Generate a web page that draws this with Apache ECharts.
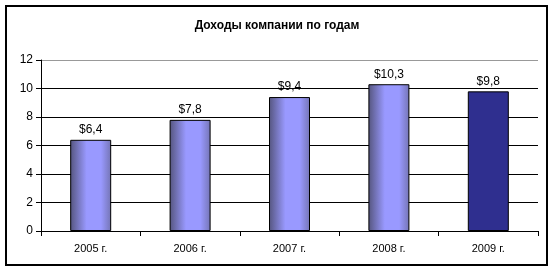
<!DOCTYPE html>
<html><head><meta charset="utf-8">
<script src="https://cdn.jsdelivr.net/npm/echarts@6/dist/echarts.min.js"></script>
<style>html,body{margin:0;padding:0;background:#fff}#c{width:554px;height:274px}</style>
</head><body><div id="c"></div>
<script>
var categories = ['2005 г.', '2006 г.', '2007 г.', '2008 г.', '2009 г.'];
var values = [6.4, 7.8, 9.4, 10.3, 9.8];
var yTicks = [0, 2, 4, 6, 8, 10, 12];
var title = 'Доходы компании по годам';

function lightGrad() {
  return {type: 'linear', x: 0, y: 0, x2: 1, y2: 0, colorStops: [
    {offset: 0, color: '#55557e'},
    {offset: 0.4, color: '#9999ff'},
    {offset: 0.75, color: '#9999ff'},
    {offset: 1, color: '#7474b4'}
  ]};
}
var darkColor = '#2f2f8f';

var chart = echarts.init(document.getElementById('c'), null, {renderer: 'canvas'});
chart.setOption({
  animation: false,
  title: {text: title, left: 'center', top: 15,
    textStyle: {fontFamily: 'Liberation Sans, Arial', fontSize: 12, fontWeight: 'bold', color: '#000'}},
  graphic: [{type: 'rect', shape: {x: 6, y: 6, width: 541, height: 259},
    style: {fill: 'none', stroke: '#000', lineWidth: 2}, silent: true}],
  grid: {left: 41, right: 16, top: 60, bottom: 43},
  xAxis: {type: 'category', data: categories,
    axisLine: {lineStyle: {color: '#000'}},
    axisTick: {show: true, length: 5, lineStyle: {color: '#000'}},
    axisLabel: {color: '#000', fontFamily: 'Liberation Sans, Arial', fontSize: 11, margin: 12}},
  yAxis: {type: 'value', min: yTicks[0], max: yTicks[yTicks.length - 1], interval: 2,
    axisLine: {show: true, lineStyle: {color: '#000'}},
    axisTick: {show: true, length: 5, lineStyle: {color: '#000'}},
    axisLabel: {color: '#000', fontFamily: 'Liberation Sans, Arial', fontSize: 12, margin: 8},
    splitLine: {show: true, lineStyle: {color: ['#000', '#000', '#000', '#000', '#000', '#000', '#999'], width: 1}}},
  series: [{type: 'bar', barWidth: 41,
    data: values.map(function (v, i) {
      return {value: v, itemStyle: {color: i === values.length - 1 ? darkColor : lightGrad()}};
    }),
    itemStyle: {borderColor: '#000', borderWidth: 1},
    label: {show: true, position: 'top', distance: 4, color: '#000',
      fontFamily: 'Liberation Sans, Arial', fontSize: 12,
      formatter: function (p) { return '$' + String(p.value).replace('.', ','); }}
  }]
});
</script></body></html>
